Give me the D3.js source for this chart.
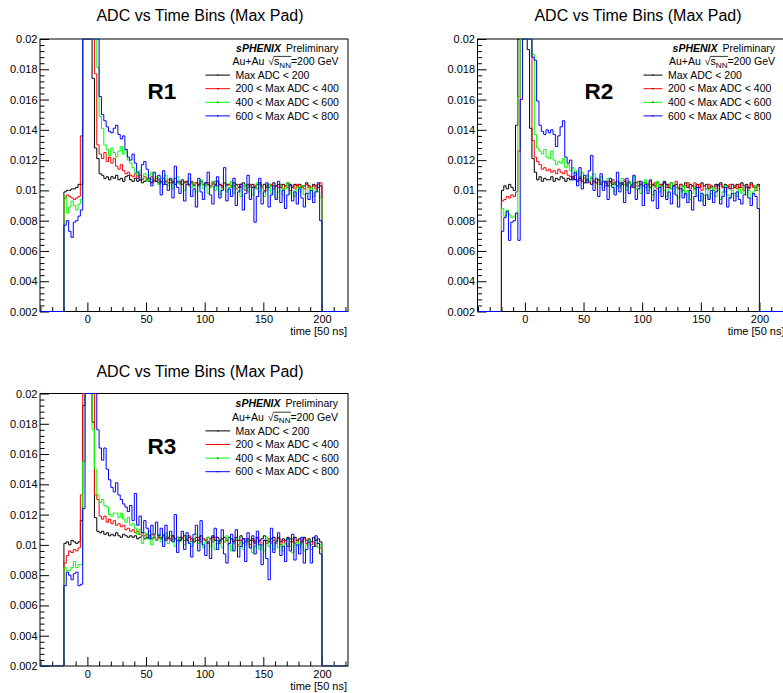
<!DOCTYPE html>
<html lang="en">
  <head>
    <meta charset="UTF-8" />
    <title>ADC vs Time Bins (Max Pad)</title>
    <script src="https://cdn.jsdelivr.net/npm/d3@7"></script>
    <style>
      body { margin: 0; background: #fff; }
    </style>
  </head>
  <body></body>
  <script>
    // bins are 2 time units wide, first bin starts at -20, last ends at 200
    const binStart = -20;
    const binWidth = 2;

    const seriesLabels = ["Max ADC < 200", "200 < Max ADC < 400", "400 < Max ADC < 600", "600 < Max ADC < 800"];
    const seriesColors = ["#000000", "#ff0000", "#00ff00", "#0000ff"];
    const panelNames = ["R1", "R2", "R3"];
    const yTicks = [0.002, 0.004, 0.006, 0.008, 0.01, 0.012, 0.014, 0.016, 0.018, 0.02];
    const xTicks = [0, 50, 100, 150, 200];

    // ---- R1 ----
    const r1Black = [
      0.0099, 0.0100, 0.0100, 0.0101, 0.0101, 0.0102, 0.0104, 0.0104, 0.0280, 0.0350,
      0.0330, 0.0240, 0.0174, 0.0128, 0.0121, 0.0111, 0.0110, 0.0108, 0.0109, 0.0107,
      0.0109, 0.0108, 0.0110, 0.0107, 0.0108, 0.0106, 0.0109, 0.0110, 0.0107, 0.0106,
      0.0108, 0.0106, 0.0107, 0.0105, 0.0106, 0.0107, 0.0106, 0.0105, 0.0107, 0.0106,
      0.0105, 0.0106, 0.0104, 0.0106, 0.0105, 0.0107, 0.0105, 0.0104, 0.0106, 0.0105,
      0.0104, 0.0105, 0.0106, 0.0104, 0.0105, 0.0103, 0.0105, 0.0104, 0.0106, 0.0104,
      0.0105, 0.0104, 0.0103, 0.0105, 0.0104, 0.0106, 0.0104, 0.0103, 0.0105, 0.0104,
      0.0104, 0.0103, 0.0105, 0.0104, 0.0102, 0.0104, 0.0105, 0.0103, 0.0104, 0.0103,
      0.0104, 0.0102, 0.0104, 0.0105, 0.0103, 0.0104, 0.0102, 0.0104, 0.0103, 0.0105,
      0.0103, 0.0104, 0.0102, 0.0104, 0.0103, 0.0105, 0.0103, 0.0102, 0.0104, 0.0103,
      0.0104, 0.0102, 0.0103, 0.0105, 0.0103, 0.0102, 0.0104, 0.0103, 0.0102, 0.0103
    ];
    const r1Red = [
      0.0095, 0.0097, 0.0096, 0.0095, 0.0094, 0.0095, 0.0096, 0.0136, 0.0300, 0.0380,
      0.0360, 0.0290, 0.0230, 0.0177, 0.0130, 0.0124, 0.0121, 0.0125, 0.0119, 0.0122,
      0.0118, 0.0121, 0.0116, 0.0114, 0.0117, 0.0113, 0.0111, 0.0112, 0.0110, 0.0109,
      0.0111, 0.0108, 0.0110, 0.0107, 0.0109, 0.0108, 0.0107, 0.0109, 0.0106, 0.0108,
      0.0107, 0.0105, 0.0108, 0.0106, 0.0107, 0.0105, 0.0106, 0.0108, 0.0105, 0.0106,
      0.0104, 0.0106, 0.0105, 0.0103, 0.0106, 0.0104, 0.0105, 0.0103, 0.0106, 0.0104,
      0.0103, 0.0105, 0.0102, 0.0104, 0.0106, 0.0103, 0.0104, 0.0102, 0.0105, 0.0103,
      0.0104, 0.0102, 0.0103, 0.0101, 0.0104, 0.0102, 0.0103, 0.0100, 0.0102, 0.0104,
      0.0102, 0.0103, 0.0101, 0.0104, 0.0102, 0.0100, 0.0103, 0.0102, 0.0104, 0.0101,
      0.0103, 0.0102, 0.0104, 0.0101, 0.0103, 0.0102, 0.0100, 0.0103, 0.0101, 0.0104,
      0.0102, 0.0103, 0.0101, 0.0104, 0.0102, 0.0100, 0.0103, 0.0101, 0.0104, 0.0105
    ];
    const r1Green = [
      0.0096, 0.0085, 0.0089, 0.0093, 0.0090, 0.0087, 0.0091, 0.0094, 0.0300, 0.0420,
      0.0400, 0.0330, 0.0260, 0.0210, 0.0181, 0.0149, 0.0141, 0.0130, 0.0127, 0.0123,
      0.0128, 0.0125, 0.0122, 0.0126, 0.0129, 0.0124, 0.0127, 0.0120, 0.0118, 0.0115,
      0.0112, 0.0110, 0.0113, 0.0108, 0.0111, 0.0106, 0.0110, 0.0112, 0.0107, 0.0109,
      0.0104, 0.0108, 0.0106, 0.0110, 0.0103, 0.0107, 0.0101, 0.0105, 0.0109, 0.0104,
      0.0106, 0.0100, 0.0104, 0.0108, 0.0102, 0.0105, 0.0099, 0.0103, 0.0107, 0.0101,
      0.0104, 0.0098, 0.0102, 0.0106, 0.0100, 0.0103, 0.0097, 0.0101, 0.0105, 0.0099,
      0.0102, 0.0106, 0.0098, 0.0103, 0.0100, 0.0096, 0.0101, 0.0104, 0.0099, 0.0102,
      0.0097, 0.0101, 0.0105, 0.0099, 0.0103, 0.0096, 0.0100, 0.0104, 0.0098, 0.0101,
      0.0095, 0.0099, 0.0103, 0.0097, 0.0101, 0.0105, 0.0098, 0.0100, 0.0096, 0.0102,
      0.0099, 0.0103, 0.0097, 0.0101, 0.0098, 0.0102, 0.0096, 0.0100, 0.0099, 0.0095
    ];
    const r1Blue = [
      0.0077, 0.0080, 0.0073, 0.0069, 0.0079, 0.0080, 0.0083, 0.0087, 0.0450, 0.0520,
      0.0480, 0.0390, 0.0310, 0.0250, 0.0210, 0.0162, 0.0150, 0.0146, 0.0142, 0.0139,
      0.0138, 0.0141, 0.0143, 0.0137, 0.0134, 0.0136, 0.0127, 0.0122, 0.0120, 0.0124,
      0.0118, 0.0112, 0.0107, 0.0117, 0.0119, 0.0114, 0.0108, 0.0103, 0.0112, 0.0106,
      0.0110, 0.0097, 0.0113, 0.0104, 0.0100, 0.0108, 0.0095, 0.0116, 0.0102, 0.0098,
      0.0107, 0.0093, 0.0104, 0.0111, 0.0096, 0.0101, 0.0089, 0.0108, 0.0099, 0.0094,
      0.0105, 0.0112, 0.0097, 0.0091, 0.0103, 0.0109, 0.0095, 0.0100, 0.0115, 0.0093,
      0.0101, 0.0096, 0.0108, 0.0090, 0.0099, 0.0104, 0.0087, 0.0098, 0.0110, 0.0094,
      0.0102, 0.0079, 0.0096, 0.0108, 0.0091, 0.0099, 0.0105, 0.0089, 0.0097, 0.0103,
      0.0094, 0.0106, 0.0092, 0.0100, 0.0088, 0.0097, 0.0104, 0.0093, 0.0099, 0.0091,
      0.0101, 0.0095, 0.0089, 0.0098, 0.0094, 0.0100, 0.0092, 0.0099, 0.0105, 0.0080
    ];

    // ---- R2 ----
    const r2Black = [
      0.0100, 0.0103, 0.0101, 0.0104, 0.0102, 0.0100, 0.0143, 0.0260, 0.0330, 0.0380,
      0.0360, 0.0193, 0.0141, 0.0121, 0.0112, 0.0107, 0.0109, 0.0106, 0.0108, 0.0107,
      0.0107, 0.0109, 0.0106, 0.0108, 0.0107, 0.0109, 0.0108, 0.0106, 0.0108, 0.0107,
      0.0109, 0.0107, 0.0106, 0.0108, 0.0106, 0.0105, 0.0107, 0.0106, 0.0104, 0.0106,
      0.0105, 0.0107, 0.0104, 0.0106, 0.0105, 0.0103, 0.0106, 0.0104, 0.0105, 0.0103,
      0.0105, 0.0104, 0.0106, 0.0103, 0.0105, 0.0104, 0.0102, 0.0105, 0.0103, 0.0104,
      0.0103, 0.0105, 0.0104, 0.0102, 0.0104, 0.0103, 0.0105, 0.0102, 0.0104, 0.0106,
      0.0104, 0.0102, 0.0105, 0.0103, 0.0104, 0.0101, 0.0104, 0.0103, 0.0105, 0.0102,
      0.0104, 0.0103, 0.0101, 0.0104, 0.0102, 0.0105, 0.0103, 0.0104, 0.0101, 0.0103,
      0.0102, 0.0104, 0.0103, 0.0105, 0.0102, 0.0104, 0.0103, 0.0101, 0.0104, 0.0102,
      0.0104, 0.0102, 0.0105, 0.0103, 0.0104, 0.0102, 0.0105, 0.0103, 0.0102, 0.0104
    ];
    const r2Red = [
      0.0093, 0.0094, 0.0096, 0.0095, 0.0097, 0.0096, 0.0099, 0.0126, 0.0310, 0.0400,
      0.0380, 0.0300, 0.0240, 0.0133, 0.0122, 0.0119, 0.0117, 0.0114, 0.0115, 0.0113,
      0.0114, 0.0112, 0.0113, 0.0111, 0.0114, 0.0112, 0.0111, 0.0113, 0.0110, 0.0109,
      0.0108, 0.0110, 0.0107, 0.0109, 0.0106, 0.0108, 0.0107, 0.0105, 0.0108, 0.0106,
      0.0105, 0.0107, 0.0104, 0.0106, 0.0103, 0.0106, 0.0105, 0.0107, 0.0104, 0.0106,
      0.0103, 0.0105, 0.0107, 0.0104, 0.0106, 0.0102, 0.0105, 0.0103, 0.0106, 0.0104,
      0.0105, 0.0102, 0.0104, 0.0106, 0.0103, 0.0105, 0.0101, 0.0104, 0.0103, 0.0105,
      0.0102, 0.0104, 0.0101, 0.0103, 0.0106, 0.0102, 0.0104, 0.0100, 0.0103, 0.0105,
      0.0101, 0.0103, 0.0105, 0.0102, 0.0104, 0.0100, 0.0103, 0.0101, 0.0104, 0.0102,
      0.0100, 0.0103, 0.0101, 0.0104, 0.0102, 0.0099, 0.0102, 0.0104, 0.0101, 0.0103,
      0.0101, 0.0104, 0.0102, 0.0100, 0.0103, 0.0101, 0.0104, 0.0102, 0.0100, 0.0103
    ];
    const r2Green = [
      0.0088, 0.0083, 0.0087, 0.0084, 0.0082, 0.0083, 0.0085, 0.0162, 0.0400, 0.0460,
      0.0420, 0.0350, 0.0260, 0.0190, 0.0137, 0.0128, 0.0126, 0.0124, 0.0127, 0.0122,
      0.0121, 0.0126, 0.0120, 0.0117, 0.0119, 0.0118, 0.0121, 0.0115, 0.0117, 0.0113,
      0.0115, 0.0111, 0.0113, 0.0109, 0.0112, 0.0108, 0.0110, 0.0106, 0.0109, 0.0111,
      0.0107, 0.0104, 0.0109, 0.0102, 0.0106, 0.0108, 0.0103, 0.0105, 0.0099, 0.0106,
      0.0102, 0.0108, 0.0104, 0.0100, 0.0106, 0.0103, 0.0109, 0.0101, 0.0105, 0.0098,
      0.0103, 0.0107, 0.0100, 0.0104, 0.0097, 0.0102, 0.0106, 0.0099, 0.0103, 0.0100,
      0.0096, 0.0101, 0.0105, 0.0098, 0.0102, 0.0095, 0.0099, 0.0103, 0.0097, 0.0100,
      0.0094, 0.0098, 0.0102, 0.0096, 0.0099, 0.0093, 0.0097, 0.0101, 0.0095, 0.0098,
      0.0102, 0.0096, 0.0100, 0.0094, 0.0099, 0.0103, 0.0097, 0.0095, 0.0100, 0.0098,
      0.0096, 0.0101, 0.0098, 0.0102, 0.0097, 0.0100, 0.0095, 0.0099, 0.0103, 0.0100
    ];
    const r2Blue = [
      0.0073, 0.0082, 0.0086, 0.0067, 0.0079, 0.0080, 0.0085, 0.0067, 0.0160, 0.0500,
      0.0480, 0.0400, 0.0300, 0.0188, 0.0186, 0.0159, 0.0143, 0.0139, 0.0137, 0.0140,
      0.0138, 0.0140, 0.0137, 0.0129, 0.0136, 0.0142, 0.0146, 0.0122, 0.0118, 0.0120,
      0.0107, 0.0112, 0.0103, 0.0115, 0.0101, 0.0110, 0.0105, 0.0113, 0.0123, 0.0100,
      0.0108, 0.0096, 0.0111, 0.0100, 0.0106, 0.0094, 0.0108, 0.0102, 0.0097, 0.0112,
      0.0099, 0.0105, 0.0092, 0.0108, 0.0098, 0.0103, 0.0110, 0.0094, 0.0101, 0.0106,
      0.0090, 0.0104, 0.0098, 0.0107, 0.0093, 0.0100, 0.0088, 0.0102, 0.0096, 0.0105,
      0.0094, 0.0099, 0.0091, 0.0103, 0.0097, 0.0089, 0.0101, 0.0095, 0.0098, 0.0092,
      0.0100, 0.0087, 0.0096, 0.0102, 0.0093, 0.0098, 0.0090, 0.0097, 0.0094, 0.0100,
      0.0092, 0.0099, 0.0104, 0.0091, 0.0096, 0.0102, 0.0089, 0.0095, 0.0098, 0.0093,
      0.0099, 0.0094, 0.0091, 0.0097, 0.0102, 0.0095, 0.0090, 0.0098, 0.0096, 0.0088
    ];

    // ---- R3 ----
    const r3Black = [
      0.0101, 0.0102, 0.0100, 0.0103, 0.0102, 0.0101, 0.0102, 0.0116, 0.0192, 0.0300,
      0.0330, 0.0260, 0.0181, 0.0118, 0.0109, 0.0108, 0.0109, 0.0107, 0.0108, 0.0106,
      0.0107, 0.0106, 0.0108, 0.0106, 0.0105, 0.0107, 0.0106, 0.0105, 0.0106, 0.0105,
      0.0106, 0.0104, 0.0105, 0.0106, 0.0104, 0.0105, 0.0106, 0.0104, 0.0105, 0.0103,
      0.0105, 0.0104, 0.0106, 0.0103, 0.0105, 0.0104, 0.0106, 0.0104, 0.0103, 0.0105,
      0.0104, 0.0106, 0.0103, 0.0105, 0.0104, 0.0102, 0.0105, 0.0103, 0.0106, 0.0104,
      0.0103, 0.0105, 0.0104, 0.0106, 0.0103, 0.0105, 0.0102, 0.0104, 0.0105, 0.0103,
      0.0105, 0.0104, 0.0102, 0.0105, 0.0103, 0.0106, 0.0104, 0.0102, 0.0104, 0.0103,
      0.0104, 0.0102, 0.0105, 0.0103, 0.0104, 0.0106, 0.0103, 0.0102, 0.0104, 0.0105,
      0.0103, 0.0105, 0.0102, 0.0104, 0.0103, 0.0105, 0.0104, 0.0102, 0.0105, 0.0103,
      0.0104, 0.0102, 0.0105, 0.0103, 0.0104, 0.0102, 0.0105, 0.0103, 0.0104, 0.0102
    ];
    const r3Red = [
      0.0088, 0.0093, 0.0096, 0.0095, 0.0097, 0.0096, 0.0098, 0.0133, 0.0300, 0.0400,
      0.0370, 0.0290, 0.0220, 0.0133, 0.0130, 0.0119, 0.0117, 0.0119, 0.0115, 0.0117,
      0.0114, 0.0116, 0.0113, 0.0114, 0.0112, 0.0113, 0.0110, 0.0111, 0.0109, 0.0110,
      0.0108, 0.0109, 0.0107, 0.0108, 0.0106, 0.0107, 0.0105, 0.0107, 0.0106, 0.0104,
      0.0106, 0.0105, 0.0107, 0.0104, 0.0105, 0.0103, 0.0106, 0.0104, 0.0105, 0.0103,
      0.0105, 0.0103, 0.0104, 0.0106, 0.0102, 0.0104, 0.0103, 0.0105, 0.0102, 0.0104,
      0.0103, 0.0101, 0.0104, 0.0102, 0.0105, 0.0103, 0.0101, 0.0104, 0.0102, 0.0103,
      0.0101, 0.0104, 0.0102, 0.0103, 0.0100, 0.0103, 0.0101, 0.0104, 0.0102, 0.0100,
      0.0103, 0.0101, 0.0104, 0.0102, 0.0100, 0.0103, 0.0101, 0.0104, 0.0102, 0.0103,
      0.0101, 0.0104, 0.0100, 0.0103, 0.0101, 0.0099, 0.0102, 0.0104, 0.0101, 0.0103,
      0.0100, 0.0102, 0.0104, 0.0101, 0.0103, 0.0100, 0.0102, 0.0099, 0.0101, 0.0098
    ];
    const r3Green = [
      0.0085, 0.0083, 0.0083, 0.0085, 0.0089, 0.0085, 0.0087, 0.0087, 0.0155, 0.0420,
      0.0450, 0.0330, 0.0176, 0.0150, 0.0133, 0.0128, 0.0130, 0.0126, 0.0125, 0.0120,
      0.0119, 0.0121, 0.0121, 0.0118, 0.0121, 0.0117, 0.0115, 0.0118, 0.0113, 0.0114,
      0.0111, 0.0107, 0.0110, 0.0101, 0.0108, 0.0104, 0.0109, 0.0100, 0.0106, 0.0103,
      0.0107, 0.0102, 0.0105, 0.0108, 0.0101, 0.0106, 0.0103, 0.0099, 0.0105, 0.0102,
      0.0104, 0.0100, 0.0106, 0.0102, 0.0099, 0.0104, 0.0107, 0.0101, 0.0103, 0.0098,
      0.0102, 0.0105, 0.0099, 0.0103, 0.0097, 0.0101, 0.0104, 0.0098, 0.0102, 0.0106,
      0.0100, 0.0096, 0.0101, 0.0104, 0.0099, 0.0102, 0.0097, 0.0100, 0.0103, 0.0098,
      0.0095, 0.0099, 0.0102, 0.0097, 0.0100, 0.0096, 0.0105, 0.0099, 0.0101, 0.0097,
      0.0103, 0.0098, 0.0100, 0.0096, 0.0101, 0.0104, 0.0099, 0.0095, 0.0100, 0.0102,
      0.0098, 0.0101, 0.0096, 0.0100, 0.0103, 0.0097, 0.0099, 0.0101, 0.0098, 0.0100
    ];
    const r3Blue = [
      0.0073, 0.0082, 0.0080, 0.0077, 0.0081, 0.0082, 0.0073, 0.0074, 0.0124, 0.0500,
      0.0520, 0.0460, 0.0380, 0.0300, 0.0176, 0.0164, 0.0156, 0.0164, 0.0150, 0.0143,
      0.0138, 0.0135, 0.0141, 0.0133, 0.0130, 0.0127, 0.0125, 0.0122, 0.0126, 0.0116,
      0.0134, 0.0113, 0.0119, 0.0108, 0.0116, 0.0111, 0.0104, 0.0113, 0.0107, 0.0115,
      0.0106, 0.0111, 0.0099, 0.0113, 0.0104, 0.0109, 0.0102, 0.0120, 0.0095, 0.0103,
      0.0109, 0.0097, 0.0108, 0.0101, 0.0092, 0.0107, 0.0113, 0.0096, 0.0116, 0.0100,
      0.0093, 0.0102, 0.0091, 0.0105, 0.0111, 0.0097, 0.0103, 0.0110, 0.0094, 0.0088,
      0.0101, 0.0107, 0.0096, 0.0110, 0.0092, 0.0099, 0.0104, 0.0089, 0.0108, 0.0098,
      0.0106, 0.0094, 0.0109, 0.0100, 0.0087, 0.0103, 0.0091, 0.0077, 0.0111, 0.0095,
      0.0102, 0.0108, 0.0093, 0.0099, 0.0089, 0.0104, 0.0096, 0.0107, 0.0090, 0.0100,
      0.0094, 0.0105, 0.0088, 0.0097, 0.0102, 0.0088, 0.0099, 0.0106, 0.0101, 0.0094
    ];

    const panelSeries = [
      [r1Black, r1Red, r1Green, r1Blue],
      [r2Black, r2Red, r2Green, r2Blue],
      [r3Black, r3Red, r3Green, r3Blue]
    ];

    // pixel layout of the three pads
    const pads = [
      { x0: 40, x1: 348, y0: 39, y1: 311.5, titleX: 200, titleY: 21, tagX: 162, tagY: 99, legLine: 205.5, legText: 235.5, legRight: 338.5, legTop: 51.5 },
      { x0: 477.5, x1: 785.5, y0: 39, y1: 311.5, titleX: 638, titleY: 21, tagX: 599, tagY: 99, legLine: 643.5, legText: 668, legRight: 775, legTop: 51.5 },
      { x0: 40, x1: 348, y0: 393.5, y1: 666, titleX: 200, titleY: 377, tagX: 162, tagY: 454, legLine: 205.5, legText: 235.5, legRight: 338, legTop: 407.3 }
    ];

    const FONT = "'Liberation Sans', Arial, Helvetica, sans-serif";
    const width = 783;
    const height = 693;

    const svg = d3
      .select("body")
      .append("svg")
      .attr("width", width)
      .attr("height", height)
      .style("font-family", FONT);

    const binEdges = d3.range(binStart, 200, binWidth);

    pads.forEach((p, pi) => {
      const g = svg.append("g");
      const x = d3.scaleLinear().domain([-40.4, 222.2]).range([p.x0, p.x1]);
      const y = d3.scaleLinear().domain([0.002, 0.02]).range([p.y1, p.y0]).clamp(true);
      const floor = y.domain()[0];

      // title
      g.append("text")
        .attr("x", p.titleX)
        .attr("y", p.titleY)
        .attr("text-anchor", "middle")
        .attr("font-size", 16)
        .text("ADC vs Time Bins (Max Pad)");

      // clip for histograms
      const clipId = "clip" + pi;
      svg.append("clipPath").attr("id", clipId)
        .append("rect")
        .attr("x", p.x0 - 0.5).attr("y", p.y0 - 0.5)
        .attr("width", p.x1 - p.x0 + 1).attr("height", p.y1 - p.y0 + 1);

      // y axis (ticks inside the frame, ROOT style)
      const yMinor = d3.range(0, 46).filter((i) => i % 5 !== 0).map((i) => 0.002 + i * 0.0004);
      g.append("g")
        .attr("transform", `translate(${p.x0},0)`)
        .call(d3.axisLeft(y).tickValues(yMinor).tickSize(-4.5).tickFormat(""))
        .call((a) => a.select(".domain").remove());
      const ya = g.append("g")
        .attr("transform", `translate(${p.x0},0)`)
        .call(d3.axisLeft(y).tickValues(yTicks).tickSize(-9).tickPadding(2.5).tickFormat(d3.format("~g")));
      ya.select(".domain").remove();
      ya.attr("font-size", 11).attr("font-family", FONT);

      // x axis
      const xMinor = d3.range(-40, 230, 10).filter((v) => v % 50 !== 0);
      g.append("g")
        .attr("transform", `translate(0,${p.y1})`)
        .call(d3.axisBottom(x).tickValues(xMinor).tickSize(-4.5).tickFormat(""))
        .call((a) => a.select(".domain").remove());
      const xa = g.append("g")
        .attr("transform", `translate(0,${p.y1})`)
        .call(d3.axisBottom(x).tickValues(xTicks).tickSize(-9).tickPadding(4).tickFormat(d3.format("d")));
      xa.select(".domain").remove();
      xa.attr("font-size", 11).attr("font-family", FONT);

      g.append("text")
        .attr("x", p.x1 - 1)
        .attr("y", p.y1 + 23.5)
        .attr("text-anchor", "end")
        .attr("font-size", 11)
        .text("time [50 ns]");

      // frame
      g.append("rect")
        .attr("x", p.x0).attr("y", p.y0)
        .attr("width", p.x1 - p.x0).attr("height", p.y1 - p.y0)
        .attr("fill", "none").attr("stroke", "#000").attr("stroke-width", 1);

      // histograms as step outlines
      const line = d3.line()
        .x((d) => x(d[0]))
        .y((d) => y(d[1]))
        .curve(d3.curveStepAfter);

      const hg = g.append("g").attr("clip-path", `url(#${clipId})`);
      panelSeries[pi].forEach((vals, si) => {
        const pts = [[x.domain()[0], floor]];
        vals.forEach((v, i) => pts.push([binEdges[i], v]));
        pts.push([binStart + vals.length * binWidth, floor]);
        pts.push([x.domain()[1], floor]);
        hg.append("path")
          .datum(pts)
          .attr("fill", "none")
          .attr("stroke", seriesColors[si])
          .attr("stroke-width", 1)
          .attr("d", line);
      });

      // region tag
      g.append("text")
        .attr("x", p.tagX)
        .attr("y", p.tagY)
        .attr("text-anchor", "middle")
        .attr("font-size", 22.5)
        .attr("font-weight", "bold")
        .text(panelNames[pi]);

      // legend header
      const h1 = g.append("text")
        .attr("x", p.legRight)
        .attr("y", p.legTop)
        .attr("text-anchor", "end")
        .attr("font-size", 10.5);
      h1.append("tspan").attr("font-weight", "bold").attr("font-style", "italic").text("sPHENIX");
      h1.append("tspan").attr("dx", 5).text("Preliminary");

      const h2 = g.append("text")
        .attr("x", p.legRight)
        .attr("y", p.legTop + 13.5)
        .attr("text-anchor", "end")
        .attr("font-size", 10.5);
      h2.append("tspan").text("Au+Au");
      h2.append("tspan").attr("dx", 4).text("\u221A");
      h2.append("tspan").text("s");
      h2.append("tspan").attr("font-size", 8).attr("dy", 2.5).text("NN");
      h2.append("tspan").attr("dy", -2.5).text("=200 GeV");
      // overline of the square root
      const n = h2.node();
      const ox0 = n.getEndPositionOfChar(5).x;
      const ox1 = n.getEndPositionOfChar(8).x + 0.5;
      g.append("line")
        .attr("x1", ox0 - 0.5).attr("x2", ox1)
        .attr("y1", p.legTop + 13.5 - 8.6).attr("y2", p.legTop + 13.5 - 8.6)
        .attr("stroke", "#000").attr("stroke-width", 0.8);

      // legend entries
      seriesLabels.forEach((lab, si) => {
        const by = p.legTop + 27.3 + si * 13.6;
        g.append("line")
          .attr("x1", p.legLine).attr("x2", p.legText - 5.5)
          .attr("y1", by - 3.7).attr("y2", by - 3.7)
          .attr("stroke", seriesColors[si]).attr("stroke-width", 1);
        g.append("rect")
          .attr("x", (p.legLine + p.legText - 5.5) / 2 - 0.6).attr("y", by - 4.3)
          .attr("width", 1.2).attr("height", 1.2)
          .attr("fill", "#000");
        g.append("text")
          .attr("x", p.legText)
          .attr("y", by)
          .attr("font-size", 10.5)
          .text(lab);
      });
    });
  </script>
</html>
